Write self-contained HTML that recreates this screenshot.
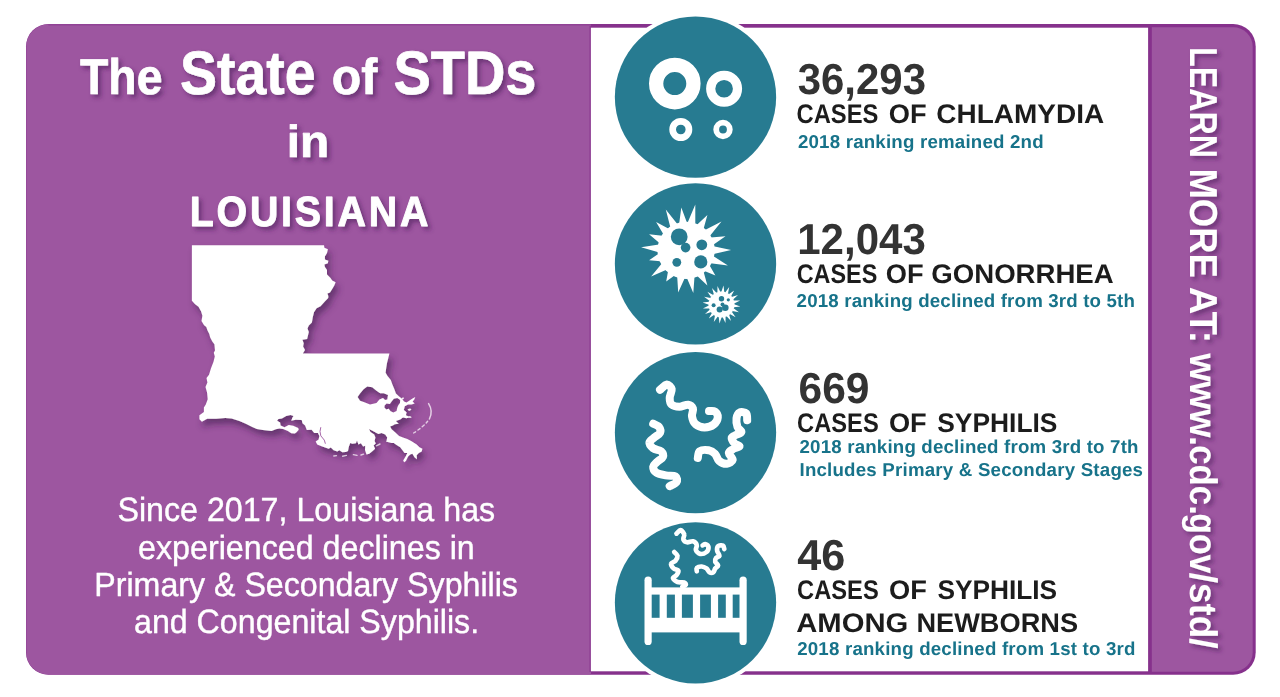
<!DOCTYPE html>
<html lang="en">
<head>
<meta charset="utf-8">
<title>The State of STDs in Louisiana</title>
<style>
html,body{margin:0;padding:0;background:#fff;}
body{width:1280px;height:697px;overflow:hidden;font-family:"Liberation Sans",sans-serif;}
svg{display:block;}
</style>
</head>
<body>
<svg width="1280" height="697" viewBox="0 0 1280 697" text-rendering="geometricPrecision">
<defs>
<filter id="ts" x="-10%" y="-30%" width="120%" height="170%">
<feDropShadow dx="3" dy="3.2" stdDeviation="2.3" flood-color="#4e1c5c" flood-opacity="0.6"/>
</filter>
<filter id="ms" x="-10%" y="-10%" width="130%" height="130%">
<feDropShadow dx="3.2" dy="5.4" stdDeviation="3.4" flood-color="#421c50" flood-opacity="0.6"/>
</filter>
<filter id="vs" x="-30%" y="-10%" width="170%" height="120%">
<feDropShadow dx="3" dy="3.2" stdDeviation="2.3" flood-color="#4e1c5c" flood-opacity="0.6"/>
</filter>
</defs>
<rect x="0" y="0" width="1280" height="697" fill="#ffffff"/>

<rect x="26" y="24" width="1229.7" height="650.8" rx="22.5" ry="22.5" fill="#86318c"/>
<path d="M48.5 24.3 H591 V674.5 H48.5 A22.2 22.2 0 0 1 26.3 652.3 V46.5 A22.2 22.2 0 0 1 48.5 24.3 Z" fill="#9d56a0"/>
<path d="M1151.8 27.2 H1233.2 A19.5 19.5 0 0 1 1252.7 46.7 V652.2 A19.5 19.5 0 0 1 1233.2 671.7 H1151.8 Z" fill="#9d56a0"/>
<rect x="48.5" y="24" width="542.5" height="1.9" fill="#86318c" opacity="0.32"/>
<rect x="589.5" y="26" width="1.5" height="646" fill="#86318c" opacity="0.7"/>
<rect x="590.9" y="27.7" width="557.2" height="643.6" fill="#ffffff"/>
<circle cx="695.5" cy="97.05" r="84.80" fill="#ffffff"/>
<circle cx="695.5" cy="97.05" r="80.65" fill="#277b91"/>
<circle cx="695.5" cy="263.95" r="84.80" fill="#ffffff"/>
<circle cx="695.5" cy="263.95" r="80.65" fill="#277b91"/>
<circle cx="695.5" cy="432.65" r="84.80" fill="#ffffff"/>
<circle cx="695.5" cy="432.65" r="80.65" fill="#277b91"/>
<circle cx="695.5" cy="602.85" r="84.80" fill="#ffffff"/>
<circle cx="695.5" cy="602.85" r="80.65" fill="#277b91"/>
<circle cx="674.8" cy="83.6" r="18.65" fill="none" stroke="#fff" stroke-width="14.30"/>
<circle cx="724.1" cy="88.7" r="13.40" fill="none" stroke="#fff" stroke-width="9.20"/>
<circle cx="680.8" cy="129.5" r="8.15" fill="none" stroke="#fff" stroke-width="6.70"/>
<circle cx="723.0" cy="129.5" r="6.80" fill="none" stroke="#fff" stroke-width="5.80"/>
<circle cx="686.1" cy="250.3" r="28.6" fill="#fff"/><path d="M679.2 223.4 L681.3 207.5 L686.9 222.6 Z M687.7 222.6 L695.3 204.6 L695.3 224.1 Z M697.0 224.8 L707.4 215.1 L703.6 228.8 Z M705.0 230.0 L721.5 221.5 L709.8 236.0 Z M710.7 237.4 L725.5 236.2 L713.3 244.7 Z M713.5 246.2 L731.1 249.9 L713.6 253.9 Z M713.2 256.0 L727.9 265.4 L710.6 263.3 Z M709.5 265.2 L715.4 275.4 L704.5 271.1 Z M703.6 271.8 L707.4 285.5 L697.0 275.8 Z M694.5 276.7 L693.3 292.9 L686.9 278.0 Z M684.8 278.0 L678.2 292.5 L677.2 276.6 Z M674.5 275.5 L666.2 281.4 L668.0 271.4 Z M666.4 269.8 L651.1 276.4 L661.8 263.6 Z M660.6 261.2 L649.1 260.3 L658.6 253.7 Z M658.4 252.3 L641.1 247.3 L658.9 244.6 Z M659.4 242.9 L649.1 234.2 L662.4 235.8 Z M663.4 234.3 L656.1 222.1 L668.7 228.7 Z M670.4 227.4 L665.8 209.5 L677.3 224.0 Z" fill="#fff"/>
<circle cx="679.2" cy="236.8" r="8.4" fill="#277b91"/>
<circle cx="685.6" cy="247.6" r="4.8" fill="#277b91"/>
<circle cx="701.8" cy="244.8" r="5.4" fill="#277b91"/>
<circle cx="700.8" cy="261.9" r="6.6" fill="#277b91"/>
<circle cx="676.8" cy="262.3" r="4.4" fill="#277b91"/>
<circle cx="721.5" cy="304.5" r="13" fill="#fff"/><path d="M734.1 304.3 L740.4 306.5 L733.8 307.3 Z M733.6 308.2 L738.9 312.2 L732.3 311.0 Z M731.8 311.7 L735.6 317.2 L729.8 314.0 Z M729.1 314.6 L731.0 321.0 L726.4 316.1 Z M725.6 316.4 L725.5 323.1 L722.6 317.1 Z M721.7 317.1 L719.5 323.4 L718.7 316.8 Z M717.8 316.6 L713.8 321.9 L715.0 315.3 Z M714.3 314.8 L708.8 318.6 L712.0 312.8 Z M711.4 312.1 L705.0 314.0 L709.9 309.4 Z M709.6 308.6 L702.9 308.5 L708.9 305.6 Z M708.9 304.7 L702.6 302.5 L709.2 301.7 Z M709.4 300.8 L704.1 296.8 L710.7 298.0 Z M711.2 297.3 L707.4 291.8 L713.2 295.0 Z M713.9 294.4 L712.0 288.0 L716.6 292.9 Z M717.4 292.6 L717.5 285.9 L720.4 291.9 Z M721.3 291.9 L723.5 285.6 L724.3 292.2 Z M725.2 292.4 L729.2 287.1 L728.0 293.7 Z M728.7 294.2 L734.2 290.4 L731.0 296.2 Z M731.6 296.9 L738.0 295.0 L733.1 299.6 Z M733.4 300.4 L740.1 300.5 L734.1 303.4 Z" fill="#fff"/>
<circle cx="721.5" cy="298.7" r="2.7" fill="#277b91"/>
<circle cx="728.3" cy="299.8" r="1.6" fill="#277b91"/>
<circle cx="713.6" cy="305.2" r="2.0" fill="#277b91"/>
<circle cx="719.6" cy="309.4" r="3.0" fill="#277b91"/>
<circle cx="725.3" cy="307.8" r="3.3" fill="#277b91"/>
<circle cx="722.5" cy="304.5" r="2.0" fill="#277b91"/>
<path d="M660.0 389.8 C661.2 388.9 664.9 384.5 666.8 384.4 C668.7 384.3 671.2 387.0 671.7 389.2 C672.1 391.5 669.7 395.3 669.7 397.9 C669.7 400.5 670.0 403.3 671.7 404.7 C673.3 406.2 676.7 406.7 679.4 406.7 C682.1 406.7 685.9 404.4 688.1 404.7 C690.4 405.0 692.3 406.7 693.0 408.6 C693.6 410.5 691.6 413.8 692.0 416.3 C692.4 418.9 693.4 422.2 695.5 424.1 C697.6 425.9 701.5 427.3 704.6 427.4 C707.6 427.4 711.5 426.2 713.7 424.5 C715.9 422.8 717.6 419.5 717.8 417.3 C718.0 415.1 716.3 412.5 714.9 411.5 C713.4 410.5 710.0 411.2 709.0 411.1" fill="none" stroke="#fff" stroke-width="8.0" stroke-linecap="round" stroke-linejoin="round"/>
<path d="M653.2 423.7 C654.2 424.2 657.9 425.5 659.1 427.0 C660.2 428.5 660.8 431.0 660.0 432.8 C659.2 434.6 656.0 436.0 654.2 437.6 C652.4 439.3 649.5 440.7 649.4 442.5 C649.2 444.3 651.3 446.8 653.2 448.3 C655.2 449.8 659.4 449.8 661.0 451.2 C662.6 452.7 663.6 455.2 662.9 457.0 C662.3 458.8 658.7 460.2 657.1 461.9 C655.5 463.5 653.4 464.9 653.2 466.7 C653.1 468.5 654.1 471.1 656.2 472.5 C658.3 474.0 662.6 474.8 665.8 475.4 C669.1 476.1 673.7 475.3 675.5 476.4 C677.3 477.5 677.5 480.6 676.5 482.2 C675.5 483.8 670.8 485.4 669.7 486.1" fill="none" stroke="#fff" stroke-width="8.0" stroke-linecap="round" stroke-linejoin="round"/>
<path d="M747.2 420.2 C747.0 419.1 747.5 414.7 746.2 413.4 C744.9 412.1 741.1 411.7 739.5 412.5 C737.8 413.3 736.9 415.9 736.5 418.3 C736.2 420.7 736.7 424.7 737.5 427.0 C738.3 429.3 741.6 430.5 741.4 431.8 C741.2 433.1 738.2 433.8 736.5 434.7 C734.9 435.7 732.0 436.2 731.7 437.6 C731.4 439.1 733.3 442.0 734.6 443.5 C735.9 444.9 739.8 445.4 739.5 446.4 C739.1 447.3 734.4 448.1 732.7 449.3 C730.9 450.4 728.8 451.4 728.8 453.1 C728.8 454.9 733.0 458.1 732.7 459.9 C732.4 461.7 729.1 463.6 726.9 463.8 C724.6 464.0 721.0 462.5 719.1 460.9 C717.2 459.3 717.0 455.9 715.2 454.1 C713.5 452.3 711.0 450.7 708.5 450.2 C705.9 449.8 701.5 449.9 699.7 451.2 C698.0 452.5 698.1 456.9 697.8 458.0" fill="none" stroke="#fff" stroke-width="8.0" stroke-linecap="round" stroke-linejoin="round"/>
<rect x="644.5" y="576.6" width="7.2" height="68.4" rx="3.6" fill="#fff"/>
<rect x="739.5" y="576.6" width="7.2" height="68.4" rx="3.6" fill="#fff"/>
<rect x="648" y="587.4" width="95" height="45" fill="#fff"/>
<rect x="651.7" y="594.6" width="7.9" height="23.2" fill="#277b91"/>
<rect x="666.8" y="594.6" width="8.1" height="23.2" fill="#277b91"/>
<rect x="681.9" y="594.6" width="11.0" height="23.2" fill="#277b91"/>
<rect x="700.1" y="594.6" width="10.8" height="23.2" fill="#277b91"/>
<rect x="718.1" y="594.6" width="7.7" height="23.2" fill="#277b91"/>
<rect x="732.7" y="594.6" width="6.8" height="23.2" fill="#277b91"/>
<path d="M676.5 533.6 C677.2 533.0 679.5 529.9 680.8 530.1 C682.0 530.2 683.8 533.0 684.2 534.5 C684.7 536.1 682.8 538.1 683.3 539.4 C683.8 540.7 685.5 542.0 687.1 542.3 C688.8 542.6 691.3 540.8 693.0 541.3 C694.6 541.8 696.4 543.7 696.8 545.2 C697.3 546.6 695.3 548.6 695.9 550.0 C696.4 551.5 698.4 553.6 700.1 553.9 C701.9 554.2 705.1 553.1 706.5 552.0 C707.9 550.8 708.6 548.4 708.5 547.1 C708.3 545.8 706.5 544.5 705.6 544.2 C704.6 543.9 703.1 545.2 702.6 545.4" fill="none" stroke="#fff" stroke-width="4.7" stroke-linecap="round" stroke-linejoin="round"/>
<path d="M674.2 552.0 C674.7 552.6 677.2 554.4 677.5 555.8 C677.7 557.3 676.6 559.4 675.5 560.7 C674.5 562.0 671.4 562.3 671.1 563.6 C670.7 564.9 672.4 567.2 673.6 568.4 C674.8 569.6 677.9 569.6 678.4 570.8 C678.9 571.9 677.4 574.0 676.5 575.2 C675.6 576.4 672.8 577.0 673.0 578.1 C673.2 579.2 675.6 581.3 677.5 582.0 C679.3 582.7 682.9 581.9 684.2 582.4 C685.6 582.9 686.1 584.2 685.8 584.9 C685.5 585.6 682.9 586.5 682.3 586.8" fill="none" stroke="#fff" stroke-width="4.7" stroke-linecap="round" stroke-linejoin="round"/>
<path d="M724.3 549.1 C724.1 548.5 724.0 546.1 723.0 545.6 C722.0 545.1 719.1 545.2 718.1 546.2 C717.2 547.1 716.9 549.4 717.2 551.0 C717.4 552.6 719.7 554.7 719.5 555.8 C719.3 557.0 716.9 556.8 716.2 557.8 C715.5 558.7 714.9 560.4 715.2 561.7 C715.6 562.9 718.1 564.4 718.1 565.5 C718.1 566.7 716.0 567.3 715.2 568.4 C714.4 569.6 714.3 571.7 713.3 572.3 C712.3 573.0 710.6 573.0 709.4 572.3 C708.3 571.7 707.8 569.4 706.5 568.4 C705.2 567.5 703.3 566.6 701.7 566.5 C700.1 566.4 697.6 567.2 696.8 568.0 C696.0 568.9 696.8 570.8 696.8 571.3" fill="none" stroke="#fff" stroke-width="4.7" stroke-linecap="round" stroke-linejoin="round"/>
<g filter="url(#ts)">
<text y="94" font-family="'Liberation Sans', sans-serif" font-size="50.0" font-weight="700" fill="#fff" stroke="#fff" stroke-width="0.7" stroke-linejoin="round" ><tspan x="80.02" textLength="82.41" lengthAdjust="spacingAndGlyphs">The</tspan> <tspan x="180.06" font-size="61.3" textLength="135.58" lengthAdjust="spacingAndGlyphs">State</tspan> <tspan x="331.85" font-size="50.6" textLength="45.46" lengthAdjust="spacingAndGlyphs">of</tspan> <tspan x="393.47" font-size="61.3" textLength="142.94" lengthAdjust="spacingAndGlyphs">STDs</tspan></text>
<text y="157" font-family="'Liberation Sans', sans-serif" font-size="45.1" font-weight="700" fill="#fff" stroke="#fff" stroke-width="0.7" stroke-linejoin="round" ><tspan x="286.79" textLength="42.48" lengthAdjust="spacingAndGlyphs">in</tspan></text>
<text transform="translate(189.79 226) scale(0.93 1)" font-family="'Liberation Sans', sans-serif" font-size="42.3" font-weight="700" fill="#fff" stroke="#fff" stroke-width="0.9" stroke-linejoin="round" textLength="256.47" lengthAdjust="spacing" >LOUISIANA</text>
</g>
<g filter="url(#ms)"><path d="M191.9 245.3 L324.0 245.3 L324.4 247.7 L327.9 249.3 L327.0 252.9 L324.9 256.4 L324.9 259.4 L328.3 260.7 L327.9 263.2 L324.4 264.5 L324.9 267.1 L327.0 270.1 L327.0 274.4 L330.5 277.9 L332.2 280.5 L335.6 282.2 L334.3 285.6 L332.2 289.1 L330.0 292.5 L327.4 293.4 L328.3 296 L328.2 298 L324.8 301.5 L320.5 306.2 L316.6 308.3 L314.0 312.2 L312.7 317.4 L311.9 322.5 L308.8 325.6 L307.5 328.6 L308.8 332 L307.1 338.9 L302.4 339.8 L303.7 343.2 L303.1 346.6 L305.0 350.1 L302.8 353.4 L389.4 353.4 L388.3 358 L387 363 L386.2 368 L385.6 372.8 L387.5 376 L390.8 380 L392.3 384.3 L394.4 389.3 L395.9 393.6 L399.1 396.5 L402 398.8 L404 401.5 L406.6 402.6 L409.5 400.5 L412.5 398.6 L415.3 396.9 L414.2 399.8 L412.6 401.6 L414.6 403.6 L411.5 404.6 L408 404.6 L404.8 406.3 L403.8 410.1 L406.6 412.3 L405.9 415.2 L410.2 417.3 L406.5 418.2 L403 417.6 L400.2 419.5 L395.9 420.9 L398.7 423.8 L394.8 424.2 L392.8 425.6 L390.1 426.5 L391.6 429.3 L395.9 432.9 L399.1 436.1 L403 437.6 L407.3 439 L411.6 441.2 L416.7 444.4 L419.5 447.3 L422.4 448.7 L421.7 451.6 L418.8 453 L416.7 455.2 L416.9 459.3 L414.5 457.3 L412.4 453.7 L410.2 454.4 L408.1 456.6 L405.9 460.9 L404.1 462.2 L403.2 460.5 L405.9 455.9 L407.3 453 L404.5 453 L402.3 450.1 L400.2 447.3 L396.6 445.1 L393.7 443 L391.6 443 L388.7 442.2 L385.8 441.5 L386.5 441 L387.2 437.5 L385.2 434.4 L381.5 433 L378.5 434 L376 432.8 L372 430.6 L369 429 L370.5 432 L374.2 434.6 L375.4 437.5 L374.6 441 L375.8 443.4 L373.6 445.6 L375.1 448.7 L372.9 450.8 L369.3 453.7 L366.5 454.6 L365 450.1 L365.2 445.8 L363.1 446.6 L360.9 443.3 L358.4 444.4 L357 440.5 L355.9 443.3 L352.3 443.7 L350.2 443 L348.7 447.3 L348 450.9 L345.9 451.9 L342.3 452.3 L339.4 450.2 L337.3 451.6 L333.7 450.2 L330.8 447.6 L328.7 448.7 L322.2 446.6 L317.2 444.4 L315.7 441.5 L318.6 439.4 L319.4 436 L317.9 432.9 L314.3 432.9 L311.6 429.7 L306.8 430.1 L305.1 425.4 L302.5 423.3 L301.7 420 L295.7 419.8 L291.3 420.7 L292.2 418.1 L293.5 415.9 L290.5 415.1 L286.2 415.9 L281.9 418.5 L278.4 419 L277.1 420.7 L280.1 422.4 L280.6 425.4 L284.5 427.3 L288.8 425 L293.1 425.8 L298.2 428 L298.7 429.7 L296.5 432.3 L294.8 433.6 L291.3 433.2 L287.9 431 L283.2 428.9 L279.3 428.4 L275.8 429.3 L271.5 431 L262.9 430.1 L256.9 428.9 L252.3 426.9 L245.8 423.7 L239.4 421.1 L231.6 418.5 L225.2 417.9 L216.1 418.8 L207.1 418.8 L201.9 421.8 L199.4 419.2 L199.4 415.3 L203.9 412.1 L203.9 407.6 L205.8 404.4 L207.7 399.2 L207.1 392.7 L205.5 386.9 L207.4 382.4 L206.5 377.9 L209 374.7 L211 368.2 L213.5 361.8 L214.8 356.6 L213.8 352.7 L215.1 350.2 L214.9 349.4 L214.4 344.2 L212.3 341.6 L210.1 337.3 L209.3 333.9 L207.5 330.5 L206.3 327 L204.1 325.3 L201.5 321 L202.4 315.8 L201.1 311.5 L198.5 306.8 L195.1 304.2 L191.9 300.8 Z M357.6 397 L360 393.6 L363.6 389.3 L367.2 386.5 L372.2 387.2 L376.5 390.8 L380.1 393.3 L383.7 393.3 L388 395.1 L387.3 399.4 L385.1 400.1 L383 397.9 L379.4 399.4 L376.5 403 L370 404.4 L364.3 402.2 L360 400.8 Z M384.6 405.5 L386.6 403.6 L389.8 404 L391.6 401.4 L393.8 398.8 L397.3 398 L400.2 400 L400 403 L398.2 405.6 L397.2 408 L396.6 411 L393.4 412.6 L390.6 411.2 L388.6 408.8 L386.2 409.4 L384.4 407.6 Z" fill="#fff" fill-rule="evenodd"/>
<path d="M407.6 409.2 l2.6 -0.8 l1.2 1.4 l-2.4 1.2 Z M408.6 416 l2.4 0.6 l0.4 1.4 l-2.6 -0.4 Z M401.5 398.6 l1.6 -1.4 l1 1 l-1.4 1.2 Z" fill="#fff" opacity="0.9"/>
</g>
<path d="M428.6 403.6 C432 409 431.6 414.6 429.4 419" fill="none" stroke="#fff" stroke-width="1.5" stroke-linecap="round" opacity="0.72"/>
<path d="M427.6 421.2 L426.2 423 M424.2 425 L422.2 426.8 M420 428.6 L418 430 M415.6 431.8 L413.6 433 M333.8 456 L336.4 455.6 M342.6 456.2 L346.4 455.4 M353.4 454.6 L357 455.4 M361 455 L363.6 454.2 M376.4 445.8 L380 444" fill="none" stroke="#fff" stroke-width="1.4" stroke-linecap="round" opacity="0.7"/>
<path d="M320.8 427.2 L320 431.5 L320.8 435.8 L324.3 440.1 L325.4 443.7" fill="none" stroke="#9d56a0" stroke-width="0.9"/>
<text y="521" font-family="'Liberation Sans', sans-serif" font-size="33.6" font-weight="400" fill="#fff" stroke="#fff" stroke-width="0.4" stroke-linejoin="round" ><tspan x="117.42" textLength="377.73" lengthAdjust="spacingAndGlyphs">Since 2017, Louisiana has</tspan></text>
<text y="559" font-family="'Liberation Sans', sans-serif" font-size="33.6" font-weight="400" fill="#fff" stroke="#fff" stroke-width="0.4" stroke-linejoin="round" ><tspan x="138.06" textLength="336.75" lengthAdjust="spacingAndGlyphs">experienced declines in</tspan></text>
<text y="596" font-family="'Liberation Sans', sans-serif" font-size="33.6" font-weight="400" fill="#fff" stroke="#fff" stroke-width="0.4" stroke-linejoin="round" ><tspan x="94.31" textLength="423.66" lengthAdjust="spacingAndGlyphs">Primary &amp; Secondary Syphilis</tspan></text>
<text y="633" font-family="'Liberation Sans', sans-serif" font-size="33.6" font-weight="400" fill="#fff" stroke="#fff" stroke-width="0.4" stroke-linejoin="round" ><tspan x="134.02" textLength="345.13" lengthAdjust="spacingAndGlyphs">and Congenital Syphilis.</tspan></text>
<text y="94" font-family="'Liberation Sans', sans-serif" font-size="43.3" font-weight="700" fill="#333333" ><tspan x="797.72" textLength="128.24" lengthAdjust="spacingAndGlyphs">36,293</tspan></text>
<text y="123" font-family="'Liberation Sans', sans-serif" font-size="27" font-weight="700" fill="#1c1c1c" ><tspan x="796.56" textLength="81.83" lengthAdjust="spacingAndGlyphs">CASES</tspan> <tspan x="888.82" textLength="37.78" lengthAdjust="spacingAndGlyphs">OF</tspan> <tspan x="936.38" textLength="167.73" lengthAdjust="spacingAndGlyphs">CHLAMYDIA</tspan></text>
<text y="148" font-family="'Liberation Sans', sans-serif" font-size="18.7" font-weight="700" fill="#17738a" ><tspan x="797.93" textLength="245.71" lengthAdjust="spacing">2018 ranking remained 2nd</tspan></text>
<text y="254" font-family="'Liberation Sans', sans-serif" font-size="43.3" font-weight="700" fill="#333333" ><tspan x="797.24" textLength="128.6" lengthAdjust="spacingAndGlyphs">12,043</tspan></text>
<text y="283" font-family="'Liberation Sans', sans-serif" font-size="27" font-weight="700" fill="#1c1c1c" ><tspan x="796.7" textLength="80.58" lengthAdjust="spacingAndGlyphs">CASES</tspan> <tspan x="885.82" textLength="37.78" lengthAdjust="spacingAndGlyphs">OF</tspan> <tspan x="931.33" textLength="182.35" lengthAdjust="spacingAndGlyphs">GONORRHEA</tspan></text>
<text y="307" font-family="'Liberation Sans', sans-serif" font-size="18.7" font-weight="700" fill="#17738a" ><tspan x="796.61" textLength="338.31" lengthAdjust="spacing">2018 ranking declined from 3rd to 5th</tspan></text>
<text y="403" font-family="'Liberation Sans', sans-serif" font-size="43.3" font-weight="700" fill="#333333" ><tspan x="798.5" textLength="71.05" lengthAdjust="spacingAndGlyphs">669</tspan></text>
<text y="432" font-family="'Liberation Sans', sans-serif" font-size="27" font-weight="700" fill="#1c1c1c" ><tspan x="797.09" textLength="81.62" lengthAdjust="spacingAndGlyphs">CASES</tspan> <tspan x="888.98" textLength="37.76" lengthAdjust="spacingAndGlyphs">OF</tspan> <tspan x="937.27" textLength="120.13" lengthAdjust="spacingAndGlyphs">SYPHILIS</tspan></text>
<text y="453" font-family="'Liberation Sans', sans-serif" font-size="18.7" font-weight="700" fill="#17738a" ><tspan x="799.51" textLength="338.95" lengthAdjust="spacing">2018 ranking declined from 3rd to 7th</tspan></text>
<text y="476" font-family="'Liberation Sans', sans-serif" font-size="18.7" font-weight="700" fill="#17738a" ><tspan x="799.48" textLength="343.53" lengthAdjust="spacing">Includes Primary &amp; Secondary Stages</tspan></text>
<text y="570" font-family="'Liberation Sans', sans-serif" font-size="43.3" font-weight="700" fill="#333333" ><tspan x="797.14" textLength="48.07" lengthAdjust="spacingAndGlyphs">46</tspan></text>
<text y="599" font-family="'Liberation Sans', sans-serif" font-size="27" font-weight="700" fill="#1c1c1c" ><tspan x="797.09" textLength="81.62" lengthAdjust="spacingAndGlyphs">CASES</tspan> <tspan x="888.99" textLength="37.8" lengthAdjust="spacingAndGlyphs">OF</tspan> <tspan x="937.39" textLength="119.75" lengthAdjust="spacingAndGlyphs">SYPHILIS</tspan></text>
<text y="632" font-family="'Liberation Sans', sans-serif" font-size="27" font-weight="700" fill="#1c1c1c" ><tspan x="796.27" textLength="112.02" lengthAdjust="spacingAndGlyphs">AMONG</tspan> <tspan x="916.47" textLength="161.54" lengthAdjust="spacingAndGlyphs">NEWBORNS</tspan></text>
<text y="655" font-family="'Liberation Sans', sans-serif" font-size="18.7" font-weight="700" fill="#17738a" ><tspan x="797.16" textLength="338.35" lengthAdjust="spacing">2018 ranking declined from 1st to 3rd</tspan></text>
<g filter="url(#vs)">
<g transform="translate(1190.4 0) rotate(90)">
<text y="0" font-family="'Liberation Sans', sans-serif" font-size="39" font-weight="700" fill="#fff" ><tspan x="47.08" textLength="110.99" lengthAdjust="spacingAndGlyphs">LEARN</tspan> <tspan x="168.39" textLength="109.43" lengthAdjust="spacingAndGlyphs">MORE</tspan> <tspan x="286.69" textLength="56.64" lengthAdjust="spacingAndGlyphs">AT:</tspan></text>
<text y="0" font-family="'Liberation Sans', sans-serif" font-size="38.5" font-weight="700" fill="#fff" ><tspan x="353.14" textLength="93.03" lengthAdjust="spacingAndGlyphs">www.</tspan><tspan x="445.16" textLength="69.66" lengthAdjust="spacingAndGlyphs">cdc.</tspan><tspan x="513.18" textLength="60.29" lengthAdjust="spacingAndGlyphs">gov</tspan><tspan x="572.84" textLength="75.72" lengthAdjust="spacingAndGlyphs">/std/</tspan></text>
</g></g>
</svg>
</body>
</html>
